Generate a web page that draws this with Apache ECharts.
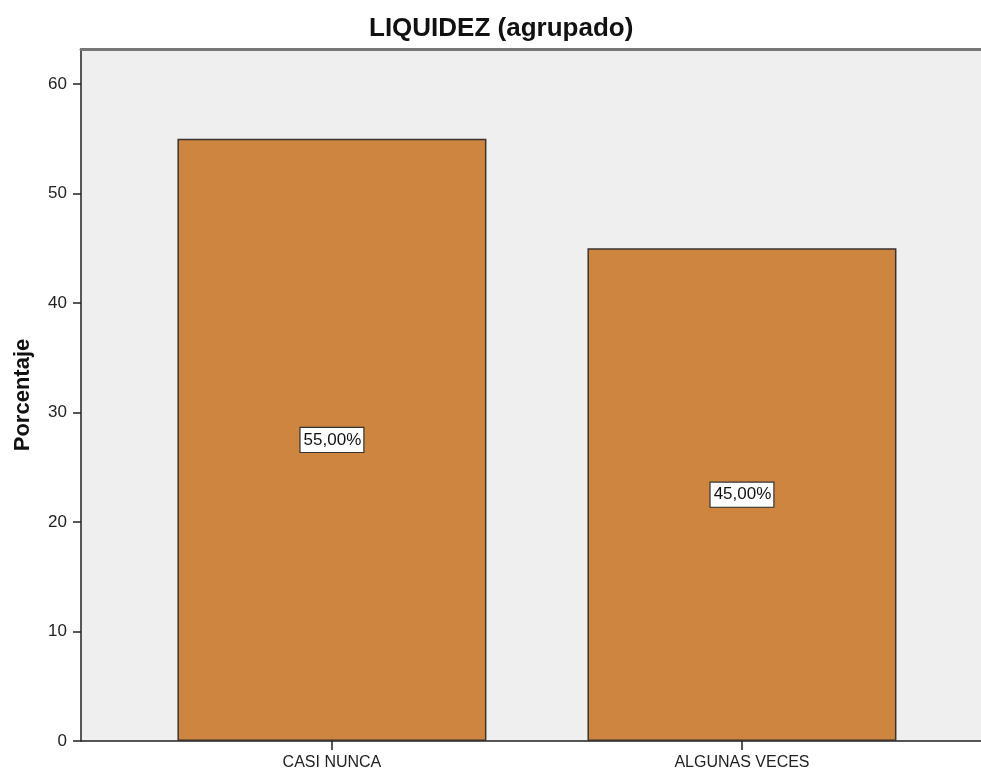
<!DOCTYPE html>
<html>
<head>
<meta charset="utf-8">
<script src="https://cdn.jsdelivr.net/npm/echarts@6/dist/echarts.min.js"></script>
<style>
  html, body { margin: 0; padding: 0; background: #fff; }
  #chart { width: 981px; height: 773px; }
</style>
</head>
<body>
<div id="chart"></div>
<script>
// data
const categories = ['CASI NUNCA', 'ALGUNAS VECES'];
const percentages = [55, 45];
const yTicks = [0, 10, 20, 30, 40, 50, 60];

const FONT = '"Liberation Sans", Arial, sans-serif';
const barData = percentages.map((v, i) => [i, v]);
const xMin = -0.612, xMax = 1.583;

const chart = echarts.init(document.getElementById('chart'));

chart.setOption({
  animation: false,
  textStyle: { fontFamily: FONT },
  title: {
    text: 'LIQUIDEZ (agrupado)',
    left: 364,
    top: 11,
    textStyle: { fontFamily: FONT, fontSize: 26, fontWeight: 'bold', color: '#111' },
  },
  grid: {
    left: 81, right: 0, top: 49, bottom: 32,
    show: true, backgroundColor: '#efefef', borderWidth: 0,
  },
  xAxis: [
    {
      type: 'value',
      min: xMin,
      max: xMax,
      splitLine: { show: false },
      axisLine: { show: true, onZero: false, lineStyle: { color: '#222', width: 1.5 } },
      axisTick: { show: true, length: 9, customValues: [0, 1], lineStyle: { color: '#222', width: 1.5 } },
      axisLabel: {
        customValues: [0, 1],
        formatter: v => categories[Math.round(v)] || '',
        fontSize: 16, color: '#222', margin: 14,
      },
    },
    {
      type: 'value',
      position: 'top',
      min: xMin,
      max: xMax,
      splitLine: { show: false },
      axisLine: { show: true, onZero: false, lineStyle: { color: '#777', width: 3 } },
      axisTick: { show: false },
      axisLabel: { show: false },
    },
  ],
  yAxis: {
    type: 'value',
    min: 0,
    max: 63.2,
    name: 'Porcentaje',
    nameLocation: 'middle',
    nameRotate: 90,
    nameGap: 47,
    nameTextStyle: { fontFamily: FONT, fontSize: 22, fontWeight: 'bold', color: '#111' },
    splitLine: { show: false },
    axisLine: { show: true, onZero: false, lineStyle: { color: '#222', width: 1.5 } },
    axisTick: { show: true, length: 8, customValues: yTicks, lineStyle: { color: '#222', width: 1.5 } },
    axisLabel: { customValues: yTicks, fontSize: 17, color: '#222', margin: 14 },
  },
  series: [
    {
      type: 'bar',
      xAxisIndex: 0,
      data: barData,
      barWidth: 309,
      itemStyle: { color: '#cd853f', borderColor: '#3a3330', borderWidth: 1.5 },
      label: {
        show: true,
        position: 'inside',
        formatter: p => p.value[1].toFixed(2).replace('.', ',') + '%',
        fontFamily: FONT,
        fontSize: 17,
        color: '#111',
        backgroundColor: '#fff',
        borderColor: '#333',
        borderWidth: 1.2,
        padding: [4, 2, 3, 3],
      },
    },
  ],
});
</script>
</body>
</html>
